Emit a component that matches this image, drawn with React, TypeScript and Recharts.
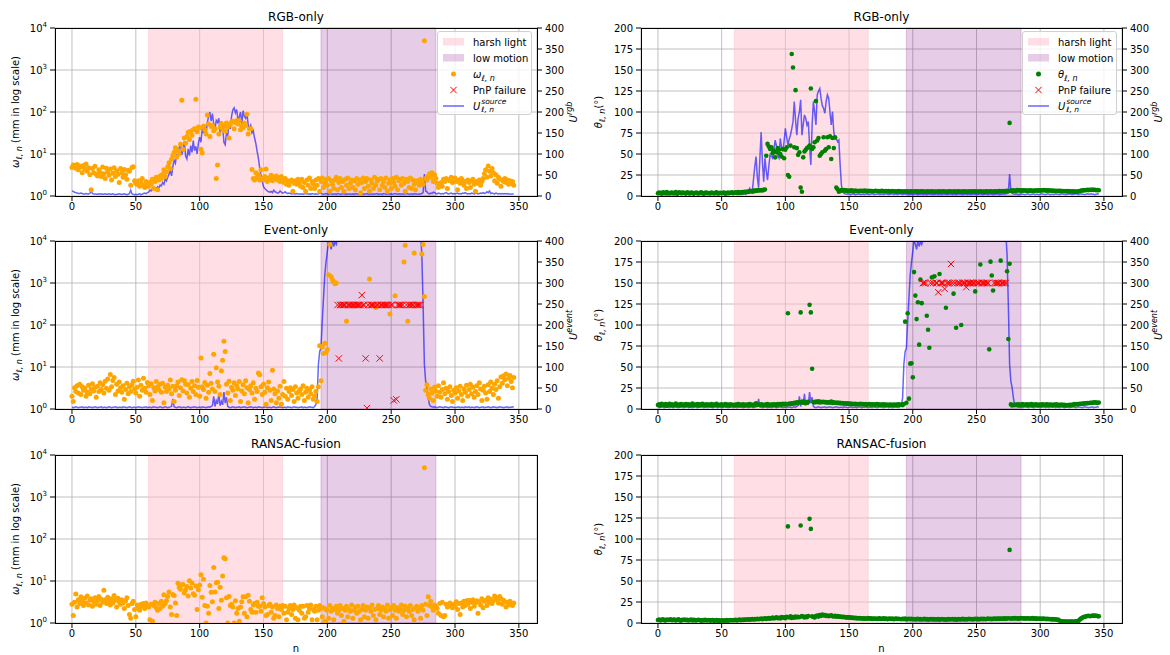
import React from 'react';
import { ComposedChart, Scatter, Line, XAxis, YAxis, CartesianGrid, ReferenceArea } from 'recharts';

const FONT = '"DejaVu Sans", sans-serif';

// frame index n on the x axis, 0..346
const X_TICKS = [0, 50, 100, 150, 200, 250, 300, 350];
const X_DOMAIN: [number, number] = [-13.3, 364.2];
const HARSH_LIGHT = [60, 165];
const LOW_MOTION = [195, 285];
const OMEGA_TICKS = [1, 10, 100, 1000, 10000];
const THETA_TICKS = [0, 25, 50, 75, 100, 125, 150, 175, 200];
const U_TICKS = [0, 50, 100, 150, 200, 250, 300, 350, 400];

// RGB-only: position error (mm)
const rgbOmega = [
  4.8, 5.5, 5.0, 4.6, 5.6, 4.2, 5.2, 4.9, 3.6, 5.3,
  4.4, 5.8, 3.9, 4.7, 3.2, 1.4, 4.5, 3.6, 5.1, 3.3,
  3.0, 4.2, 3.7, 2.9, 4.9, 3.4, 2.6, 4.6, 3.8, 3.1,
  4.4, 2.4, 3.5, 4.7, 2.9, 4.0, 3.3, 2.1, 4.5, 3.6,
  2.8, 4.3, 3.2, 2.5, 4.1, 3.9, 1.8, 4.8, 5.0, 2.3,
  2.0, 1.9, 2.3, 1.7, 2.1, 2.6, 1.8, 1.6, 2.2, 2.0,
  1.7, 2.1, 1.9, 2.5, 1.5, 2.2, 2.8, 1.4, 2.4, 3.0,
  2.6, 3.3, 4.2, 2.9, 3.8, 5.0, 6.2, 4.5, 7.5, 9.2,
  11, 14, 8.5, 12, 10, 17, 190, 13, 24, 18,
  26, 33, 22, 35, 28, 38, 40, 200, 34, 44,
  42, 13, 10.5, 46, 38, 30, 85, 52, 26, 45,
  48, 36, 40, 2.6, 5.5, 30, 44, 52, 38, 47,
  35, 55, 44, 24, 50, 58, 60, 40, 56, 63,
  52, 62, 38, 46, 42, 55, 48, 88, 30, 40,
  40, 4.3, 2.6, 2.4, 3.6, 2.8, 3.2, 2.4, 4.2, 2.6,
  2.4, 2.9, 4.4, 2.2, 2.7, 2.5, 3.1, 2.3, 2.8, 2.6,
  3.0, 2.4, 2.7, 2.2, 2.9, 2.5, 2.1, 2.6, 1.9, 2.3,
  1.8, 2.2, 2.4, 1.3, 2.0, 2.3, 1.9, 2.5, 2.1, 1.7,
  2.5, 1.6, 2.1, 1.3, 2.4, 1.8, 2.7, 1.5, 2.2, 1.9,
  1.5, 2.4, 1.8, 2.6, 1.3, 2.2, 2.7, 1.6, 2.0, 2.5,
  1.8, 2.6, 1.3, 2.3, 1.9, 1.5, 2.4, 2.8, 1.4, 2.1,
  2.6, 1.6, 2.2, 1.3, 2.5, 1.8, 2.7, 1.5, 2.0, 2.4,
  1.6, 2.3, 1.4, 2.6, 1.9, 2.4, 1.2, 2.1, 2.7, 1.5,
  2.2, 2.6, 1.7, 1.3, 2.4, 2.0, 1.5, 2.8, 1.8, 2.3,
  2.5, 1.4, 2.6, 1.8, 2.2, 1.6, 2.7, 1.3, 2.0, 2.4,
  1.5, 2.6, 2.1, 1.7, 2.8, 1.4, 2.3, 2.5, 1.8, 2.6,
  2.0, 1.3, 2.5, 2.2, 1.6, 2.7, 1.5, 2.4, 1.9, 1.4,
  2.3, 2.1, 1.8, 2.5, 2.2, 1.9, 5000, 2.6, 2.4, 3.0,
  3.4, 2.8, 3.6, 2.2, 3.2, 2.6, 2.0, 1.6, 1.8, 2.1,
  1.7, 2.5, 2.2, 2.6, 1.5, 2.4, 2.3, 2.8, 2.1, 2.5,
  2.7, 2.2, 1.4, 2.4, 2.0, 2.6, 2.3, 1.8, 2.2, 1.5,
  2.4, 2.1, 1.6, 2.3, 2.5, 1.9, 1.3, 2.2, 2.0, 2.4,
  1.8, 2.2, 2.6, 3.4, 4.2, 2.8, 5.2, 3.9, 3.0, 4.5,
  3.6, 2.3, 3.2, 2.0, 2.8, 2.5, 1.7, 2.4, 2.2, 2.6,
  2.1, 2.4, 1.9, 2.3, 2.0, 2.2, 1.8,
];

const rgbOmegaU = [
  12, 11, 9, 8, 7, 6, 6, 7, 6, 5,
  5, 6, 5, 5, 6, 12, 6, 5, 5, 4,
  4, 5, 4, 5, 4, 4, 5, 4, 4, 5,
  4, 4, 5, 4, 3, 4, 4, 5, 4, 4,
  4, 5, 4, 3, 4, 6, 14, 5, 4, 3,
  4, 3, 4, 5, 3, 4, 6, 7, 5, 8,
  9, 14, 12, 18, 15, 20, 17, 22, 19, 26,
  24, 32, 28, 40, 36, 45, 52, 60, 48, 70,
  85, 78, 100, 92, 115, 125, 98, 110, 130, 95,
  88, 112, 96, 120, 104, 132, 108, 118, 100, 126,
  140, 128, 160, 150, 170, 145, 175, 190, 200, 178,
  196, 172, 160, 180, 175, 185, 150, 178, 165, 128,
  122, 150, 145, 170, 160, 190, 205, 210, 198, 206,
  180, 188, 200, 172, 203, 190, 185, 196, 170, 160,
  168, 150, 155, 138, 125, 106, 90, 67, 50, 35,
  22, 18, 15, 12, 10, 9, 11, 8, 14, 10,
  9, 7, 8, 12, 9, 7, 8, 10, 7, 6,
  7, 6, 5, 6, 5, 5, 6, 5, 5, 4,
  5, 4, 5, 6, 5, 4, 5, 4, 6, 5,
  4, 5, 4, 5, 6, 7, 5, 4, 5, 6,
  5, 4, 6, 5, 4, 5, 5, 4, 6, 5,
  4, 5, 5, 6, 4, 5, 4, 5, 5, 4,
  5, 4, 6, 5, 5, 4, 5, 6, 4, 5,
  5, 6, 4, 5, 4, 5, 5, 4, 5, 6,
  4, 5, 5, 4, 6, 5, 4, 5, 5, 4,
  5, 4, 5, 6, 5, 4, 5, 4, 5, 5,
  4, 5, 6, 5, 4, 5, 5, 4, 6, 5,
  5, 4, 5, 5, 6, 8, 52, 12, 10, 6,
  5, 7, 6, 9, 8, 6, 5, 7, 6, 5,
  6, 5, 7, 8, 6, 5, 6, 7, 5, 6,
  5, 6, 7, 5, 6, 5, 7, 6, 8, 6,
  5, 6, 5, 7, 6, 5, 6, 7, 5, 6,
  7, 6, 8, 6, 7, 10, 8, 12, 6, 7,
  6, 5, 7, 6, 5, 6, 5, 6, 5, 6,
  5, 6, 5, 5, 4, 5, 5,
];

// RGB-only: rotation error (deg)
const rgbTheta = [
  3.2, 4.1, 3.6, 2.8, 4.4, 3.9, 3.0, 4.6, 3.4, 2.9,
  3.8, 4.2, 3.1, 3.5, 4.8, 2.7, 3.9, 4.3, 3.3, 3.7,
  4.0, 3.2, 2.9, 4.5, 3.6, 3.1, 4.2, 3.8, 2.8, 3.5,
  4.1, 3.4, 3.0, 3.9, 4.4, 3.2, 2.7, 3.7, 4.0, 3.3,
  3.6, 2.9, 4.2, 3.5, 3.1, 3.8, 4.3, 3.0, 3.4, 3.9,
  3.2, 3.7, 4.1, 2.8, 3.5, 4.0, 3.3, 3.8, 4.4, 3.6,
  3.9, 4.3, 3.5, 4.6, 4.0, 3.7, 4.8, 4.2, 5.0, 4.5,
  5.2, 4.7, 5.6, 6.0, 5.1, 6.4, 5.8, 6.8, 6.2, 7.0,
  6.5, 7.2, 6.6, 7.5, 7.8, 48, 62, 59, 56, 58,
  51, 54, 46, 52, 57, 55, 50, 47, 56, 45,
  55, 58, 25, 23, 60, 169, 153, 58, 126, 57,
  49, 52, 10, 5, 46, 53, 55, 57, 58, 60,
  128, 56, 58, 64, 113, 66, 69, 48, 50, 52,
  70, 54, 56, 70, 58, 71, 44, 69, 57, 70,
  10, 8, 5, 6, 7.2, 6.5, 7.0, 6.2, 6.8, 5.9,
  6.4, 5.8, 6.9, 6.1, 5.5, 6.6, 6.0, 5.7, 6.3, 5.9,
  6.2, 5.6, 6.5, 5.9, 6.1, 5.4, 6.3, 5.8, 6.0, 5.5,
  5.9, 6.2, 5.6, 6.0, 5.3, 5.8, 6.1, 5.5, 5.7, 6.0,
  5.4, 5.8, 5.2, 5.6, 5.9, 5.3, 5.7, 5.1, 5.5, 5.8,
  5.2, 5.6, 5.0, 5.4, 5.7, 5.1, 5.5, 4.9, 5.3, 5.6,
  5.0, 5.4, 5.7, 5.1, 5.5, 4.9, 5.3, 5.6, 5.2, 5.0,
  5.4, 5.1, 5.5, 4.8, 5.2, 5.6, 5.0, 5.3, 4.9, 5.4,
  5.1, 5.5, 5.0, 5.3, 5.7, 5.1, 5.4, 4.9, 5.2, 5.6,
  5.0, 5.4, 5.1, 5.5, 4.8, 5.2, 5.6, 5.0, 5.3, 5.1,
  5.5, 5.2, 4.9, 5.4, 5.1, 5.6, 5.0, 5.3, 5.5, 5.2,
  5.4, 5.0, 5.3, 5.6, 5.1, 5.4, 4.9, 5.2, 5.5, 5.1,
  5.3, 5.6, 5.0, 5.4, 5.2, 5.7, 5.1, 5.5, 5.8, 5.3,
  5.6, 5.9, 5.4, 5.8, 6.2, 5.7, 87, 6.4, 6.9, 6.1,
  6.6, 6.3, 7.0, 6.5, 6.8, 6.2, 6.7, 6.4, 6.9, 6.3,
  6.5, 6.1, 6.8, 6.4, 6.0, 6.6, 6.2, 6.9, 6.3, 6.7,
  6.4, 6.9, 6.5, 7.1, 6.7, 6.3, 6.8, 6.4, 6.6, 6.2,
  6.5, 6.0, 6.3, 5.9, 6.2, 5.8, 6.1, 5.7, 6.0, 5.6,
  5.9, 5.5, 5.8, 5.4, 5.6, 5.2, 5.5, 5.0, 5.4, 5.1,
  5.5, 5.9, 6.3, 6.8, 6.5, 7.1, 6.8, 7.4, 7.0, 7.5,
  7.2, 7.6, 7.1, 7.3, 6.9, 7.2, 6.8,
];

const rgbThetaU = [
  4, 3, 4, 5, 3, 4, 4, 3, 5, 4,
  3, 4, 4, 3, 4, 5, 3, 4, 4, 3,
  4, 4, 3, 5, 4, 3, 4, 4, 3, 4,
  5, 3, 4, 4, 3, 4, 5, 4, 3, 4,
  4, 3, 5, 4, 4, 3, 4, 5, 3, 4,
  4, 5, 3, 4, 4, 3, 5, 4, 4, 3,
  4, 4, 5, 3, 4, 5, 4, 6, 5, 4,
  8, 12, 18, 9, 10, 40, 70, 94, 45, 20,
  90, 152, 80, 34, 90, 60, 38, 70, 98, 95,
  90, 110, 133, 120, 95, 90, 137, 115, 106, 130,
  161, 140, 121, 135, 145, 160, 177, 225, 180, 145,
  185, 200, 229, 145, 170, 193, 185, 169, 177, 120,
  74, 169, 225, 200, 169, 241, 250, 256, 233, 215,
  209, 197, 225, 241, 233, 200, 169, 201, 153, 135,
  137, 129, 133, 74, 26, 10, 6, 5, 4, 5,
  4, 3, 4, 5, 4, 3, 4, 4, 5, 3,
  4, 4, 3, 5, 4, 4, 3, 4, 5, 4,
  3, 4, 4, 5, 3, 4, 4, 3, 4, 5,
  4, 3, 4, 4, 5, 3, 4, 4, 3, 4,
  5, 4, 3, 4, 4, 5, 4, 3, 4, 4,
  3, 4, 5, 4, 3, 4, 4, 5, 3, 4,
  4, 3, 4, 5, 4, 4, 3, 4, 4, 5,
  3, 4, 4, 3, 5, 4, 4, 3, 4, 4,
  5, 3, 4, 4, 3, 4, 5, 4, 4, 3,
  4, 4, 5, 3, 4, 4, 3, 5, 4, 4,
  3, 4, 4, 5, 4, 3, 4, 4, 5, 3,
  4, 5, 4, 3, 4, 4, 5, 4, 3, 4,
  4, 5, 4, 5, 6, 8, 52, 10, 6, 5,
  4, 5, 4, 3, 4, 5, 4, 4, 3, 4,
  5, 4, 3, 4, 4, 5, 3, 4, 4, 3,
  4, 5, 4, 4, 3, 4, 5, 4, 3, 4,
  4, 3, 5, 4, 4, 3, 4, 5, 4, 4,
  3, 4, 4, 5, 4, 3, 4, 4, 5, 4,
  3, 4, 5, 4, 4, 3, 4, 5, 4, 4,
  5, 4, 4, 3, 4, 5, 4,
];

// Event-only: position error (mm), null where PnP failed
const evOmega = [
  2.0, 1.5, 3.2, 2.6, 3.6, 2.4, 3.9, 2.2, 3.4, 2.8,
  3.1, 2.0, 2.5, 3.7, 2.3, 3.0, 4.0, 2.7, 3.3, 1.9,
  3.5, 2.6, 4.2, 2.9, 3.8, 2.4, 4.6, 3.1, 5.2, 2.8,
  6.6, 3.4, 4.8, 5.6, 2.2, 3.9, 2.7, 4.4, 3.2, 2.5,
  3.6, 1.7, 2.9, 4.1, 2.3, 3.4, 2.6, 3.8, 4.6, 3.0,
  2.4, 3.3, 4.9, 2.0, 3.7, 2.8, 5.4, 3.1, 2.5, 4.3,
  3.6, 2.2, 4.0, 1.6, 3.2, 2.7, 4.5, 3.4, 2.9, 3.9,
  2.5, 4.1, 1.4, 3.3, 2.6, 3.7, 3.0, 4.9, 2.3, 3.5,
  1.5, 2.8, 3.6, 4.4, 2.1, 3.2, 5.0, 2.7, 4.7, 3.9,
  2.4, 3.8, 1.9, 3.1, 4.5, 2.6, 3.6, 2.2, 4.8, 3.3,
  2.0, 16.4, 3.4, 2.9, 4.3, 1.8, 3.7, 2.5, 7.0, 4.1,
  3.0, 20, 2.6, 9.6, 4.4, 3.5, 2.2, 8.1, 14.4, 41,
  23.5, 3.9, 2.4, 4.6, 1.6, 3.3, 2.8, 4.2, 2.1, 3.6,
  3.0, 4.5, 1.5, 2.7, 3.8, 2.3, 4.7, 3.2, 1.4, 2.9,
  3.6, 2.4, 4.2, 1.7, 3.1, 2.6, 7.2, 6.5, 3.4, 2.2,
  3.9, 2.5, 1.3, 3.2, 4.4, 2.8, 1.6, 8.4, 3.0, 2.3,
  1.4, 2.7, 1.8, 3.5, 1.3, 2.2, 4.5, 2.0, 3.1, 1.7,
  2.6, 3.2, 2.1, 2.9, 1.5, 3.4, 2.4, 1.8, 2.7, 3.0,
  2.2, 3.6, 1.6, 2.5, 3.1, 1.9, 2.8, 2.3, 3.4, 1.7,
  2.0, 2.6, 1.5, 3.4, 32, 4.7, 30, 21, 37, 22,
  26, 1580, 8200, 1400, 1200, 1050, 960, 1000, null, null,
  null, null, null, null, null, 122, null, null, null, null,
  null, null, null, null, null, null, null, null, null, null,
  null, null, null, 1250, null, null, null, null, 260, null,
  null, null, null, null, null, null, null, null, null, 182,
  null, null, null, 500, null, null, null, null, null, null,
  3160, 7900, null, 122, null, null, null, null, 5200, null,
  null, null, null, null, 4900, 8300, 480, 2.8, 3.8, 2.2,
  1.8, 3.0, 2.4, 1.6, 3.3, 2.7, 2.0, 3.6, 2.5, 1.9,
  2.9, 4.2, 2.3, 3.1, 1.7, 2.6, 3.4, 2.1, 1.5, 2.8,
  2.4, 3.2, 1.8, 2.7, 3.5, 2.2, 1.6, 3.0, 2.5, 3.7,
  2.0, 2.9, 3.9, 2.3, 3.3, 1.9, 2.6, 3.6, 2.2, 4.2,
  3.0, 1.6, 2.8, 3.5, 2.4, 1.7, 3.8, 2.6, 4.4, 3.1,
  2.2, 3.9, 2.9, 4.7, 1.8, 3.4, 5.8, 4.1, 6.2, 5.0,
  6.8, 3.6, 5.4, 6.3, 4.5, 3.2, 5.6,
];

const evPnpOmegaN = [
  208, 209, 210, 211, 212, 213, 214, 216, 217, 218, 219, 220, 221, 222, 223, 224,
  225, 226, 227, 228, 229, 230, 231, 232, 234, 235, 236, 237, 239, 240, 241, 242,
  243, 244, 245, 246, 247, 248, 250, 251, 252, 254, 255, 256, 257, 258, 259, 262,
  264, 265, 266, 267, 269, 270, 271, 272, 273,
];
const evPnpOmegaVal = [
  300, 16, 300, 300, 300, 300, 300, 300, 300, 300, 300, 300, 300, 300, 300, 300,
  300, 300, 515, 300, 300, 16, 1.05, 300, 300, 300, 300, 300, 300, 300, 16, 300,
  300, 300, 300, 300, 300, 300, 300, 300, 1.6, 1.7, 300, 300, 300, 300, 300, 300,
  300, 300, 300, 300, 300, 300, 300, 300, 300,
];

// U^event, shared by both event-only panels
const evU = [
  4, 3, 4, 5, 4, 3, 4, 4, 5, 3,
  4, 4, 3, 5, 4, 4, 3, 4, 5, 4,
  3, 4, 4, 5, 3, 4, 4, 3, 4, 5,
  4, 3, 4, 4, 5, 4, 3, 4, 4, 3,
  5, 4, 4, 3, 4, 5, 4, 3, 4, 4,
  3, 4, 5, 4, 4, 3, 4, 4, 5, 3,
  4, 4, 3, 4, 5, 4, 4, 3, 4, 5,
  4, 3, 4, 5, 4, 3, 4, 5, 6, 24,
  5, 4, 3, 4, 5, 4, 3, 4, 4, 3,
  4, 5, 4, 3, 4, 4, 5, 4, 3, 4,
  4, 3, 5, 4, 4, 3, 4, 5, 4, 6,
  8, 30, 6, 20, 12, 36, 8, 18, 10, 40,
  14, 28, 6, 4, 3, 4, 5, 4, 3, 4,
  4, 5, 3, 4, 4, 5, 4, 3, 4, 4,
  5, 4, 3, 4, 4, 3, 5, 4, 4, 3,
  4, 4, 5, 3, 4, 4, 3, 4, 5, 4,
  3, 4, 4, 5, 4, 3, 4, 4, 3, 5,
  4, 4, 3, 4, 5, 4, 4, 3, 4, 4,
  5, 3, 4, 4, 3, 4, 5, 4, 4, 3,
  6, 10, 26, 106, 137, 145, 209, 264, 320, 350,
  375, 405, 392, 380, 402, 387, 398, 392, 405, 410,
  420, 420, 420, 420, 420, 420, 420, 420, 420, 420,
  420, 420, 420, 420, 420, 420, 420, 420, 420, 420,
  420, 420, 420, 420, 420, 420, 420, 420, 420, 420,
  420, 420, 420, 420, 420, 420, 420, 420, 420, 420,
  420, 420, 420, 420, 420, 420, 420, 420, 420, 420,
  420, 420, 420, 420, 420, 420, 420, 420, 420, 420,
  420, 420, 420, 420, 367, 248, 106, 66, 50, 26,
  10, 6, 5, 4, 5, 4, 3, 4, 5, 4,
  4, 3, 5, 4, 4, 3, 4, 5, 4, 4,
  3, 4, 4, 5, 3, 4, 4, 3, 5, 4,
  4, 5, 3, 4, 4, 3, 4, 5, 4, 3,
  4, 4, 5, 3, 4, 4, 5, 4, 3, 4,
  5, 4, 4, 3, 4, 5, 4, 4, 3, 4,
  4, 5, 3, 4, 4, 5, 4,
];

// Event-only: rotation error (deg), null where PnP failed
const evTheta = [
  4.8, 5.6, 4.2, 6.3, 5.1, 4.5, 5.9, 4.0, 5.3, 6.1,
  4.7, 5.5, 4.3, 5.0, 6.4, 4.6, 5.2, 4.1, 5.8, 4.9,
  5.4, 4.4, 6.0, 4.8, 5.7, 4.2, 5.1, 6.6, 4.5, 5.3,
  4.9, 5.8, 4.3, 5.5, 4.7, 6.2, 5.0, 4.4, 5.6, 4.8,
  5.2, 4.6, 5.9, 4.1, 5.4, 4.9, 6.3, 4.5, 5.1, 4.7,
  5.5, 4.3, 5.0, 5.8, 4.6, 5.3, 4.2, 5.7, 4.8, 5.1,
  4.5, 5.4, 4.9, 5.9, 4.4, 5.2, 4.7, 5.6, 4.3, 5.0,
  5.3, 4.6, 5.8, 4.9, 5.1, 4.4, 5.5, 6.7, 4.8, 5.2,
  4.7, 5.6, 5.0, 4.5, 5.3, 4.9, 5.8, 4.6, 5.1, 5.4,
  4.9, 5.7, 5.2, 4.6, 6.0, 5.3, 5.8, 5.0, 6.3, 5.5,
  6.1, 5.4, 114, 6.6, 5.8, 6.9, 6.2, 7.4, 6.5, 7.9,
  7.0, 8.3, 115, 7.6, 8.8, 7.2, 8.1, 7.5, 8.6, 124,
  115, 48, 8.4, 7.8, 8.9, 8.2, 9.1, 7.7, 8.5, 8.0,
  8.7, 7.9, 8.3, 7.4, 8.1, 7.6, 8.8, 7.2, 7.9, 7.5,
  7.1, 7.8, 6.9, 7.4, 6.6, 7.2, 6.4, 6.8, 6.2, 6.7,
  6.0, 6.5, 5.8, 6.3, 5.6, 6.1, 5.4, 5.9, 5.7, 6.2,
  5.5, 6.0, 5.3, 5.8, 5.1, 5.6, 5.9, 5.2, 5.7, 5.4,
  5.0, 5.5, 5.8, 5.2, 4.9, 5.4, 5.1, 5.6, 4.8, 5.3,
  5.0, 4.7, 5.4, 5.1, 4.8, 5.3, 4.6, 5.2, 4.9, 5.5,
  4.8, 5.2, 4.5, 6.0, 104, 7.5, 114, 12.3, 54, 54.4,
  37.7, 163, 135, 107, 127, 76.6, 154, 126, null, null,
  null, 111, 94.4, 72.9, null, 156.7, null, 157.9, null, null,
  null, 160.7, null, null, null, null, 120.6, null, null, null,
  null, null, 137.3, null, 96.8, null, null, null, 100, null,
  null, null, null, null, null, null, null, null, null, 140,
  null, null, null, 172, null, null, null, null, null, null,
  71, 175.4, 159, 141, null, null, null, null, null, 176.6,
  null, null, null, null, 164, 83.3, 173, 5.5, 4.2, 5.0,
  4.6, 5.3, 4.9, 5.6, 4.4, 5.1, 5.8, 4.7, 5.4, 5.0,
  5.5, 4.8, 5.2, 5.9, 4.6, 5.3, 5.0, 5.7, 4.5, 5.1,
  5.4, 4.9, 5.6, 5.1, 4.7, 5.5, 5.2, 4.8, 5.3, 5.0,
  4.6, 5.2, 4.9, 5.5, 4.4, 5.0, 4.7, 5.3, 4.5, 4.9,
  4.3, 4.8, 4.5, 5.1, 4.6, 5.0, 5.4, 5.8, 5.3, 6.0,
  5.7, 6.3, 6.0, 6.6, 6.2, 6.9, 6.5, 7.2, 6.8, 7.5,
  7.1, 7.8, 7.4, 8.0, 7.6, 7.2, 7.7,
];

const evPnpThetaN = [
  208, 209, 210, 214, 216, 218, 219, 220, 222, 223, 224, 225, 227, 228, 229, 230,
  231, 233, 235, 236, 237, 239, 240, 241, 242, 243, 244, 245, 246, 247, 248, 250,
  251, 252, 254, 255, 256, 257, 258, 259, 264, 265, 266, 267, 268, 270, 271, 272, 273,
];
const evPnpThetaVal = [
  150, 150, 150, 150, 150, 150, 150, 139, 150, 150, 150, 143, 150, 150, 150, 172.6,
  150, 150, 150, 150, 150, 150, 150, 150, 145, 150, 150, 150, 150, 150, 150, 150,
  150, 150, 150, 150, 150, 150, 150, 150, 150, 150, 150, 150, 150, 150, 150, 150, 150,
];

// RANSAC-fusion: position error (mm)
const fusionOmega = [
  2.8, 1.5, 3.1, 4.9, 2.4, 3.6, 2.9, 4.2, 3.3, 2.6,
  3.9, 3.0, 4.4, 2.7, 3.5, 3.8, 2.5, 3.2, 4.0, 2.8,
  3.4, 4.3, 2.6, 3.7, 3.1, 6.0, 3.6, 2.9, 4.1, 3.3,
  2.7, 3.8, 3.0, 4.5, 3.5, 2.4, 3.9, 3.2, 2.8, 3.6,
  3.0, 2.2, 3.4, 4.0, 2.6, 1.6, 1.3, 2.9, 3.3, 2.1,
  1.4, 2.7, 2.3, 2.0, 2.8, 2.5, 2.9, 2.2, 3.0, 2.6,
  2.4, 1.2, 2.8, 1.1, 2.6, 3.1, 2.3, 2.0, 2.9, 2.2,
  3.3, 2.5, 4.7, 2.9, 3.4, 4.3, 5.5, 2.4, 1.6, 4.8,
  4.5, 3.0, 1.5, 8.8, 7.0, 6.4, 8.1, 8.3, 5.2, 6.1,
  7.4, 4.4, 10.2, 6.8, 9.0, 5.0, 4.6, 7.6, 2.1, 6.2,
  8.0, 14, 4.1, 11, 2.6, 1.0, 2.5, 1.7, 7.8, 5.4,
  3.2, 21, 5.5, 9.1, 9.3, 2.2, 7.1, 3.5, 13.2, 36,
  34, 4.0, 1.0, 4.3, 2.6, 2.8, 2.4, 1.0, 3.4, 1.7,
  2.2, 1.1, 2.4, 3.2, 4.2, 1.7, 4.2, 1.4, 4.6, 3.3,
  2.1, 1.8, 2.7, 2.9, 1.8, 3.1, 2.5, 2.5, 1.9, 4.0,
  2.9, 2.4, 1.5, 1.6, 2.6, 2.8, 1.8, 2.4, 1.3, 1.5,
  2.7, 2.2, 1.4, 2.5, 2.1, 2.6, 1.7, 2.5, 1.2, 1.8,
  2.2, 2.6, 1.6, 2.1, 2.7, 1.3, 2.3, 1.2, 2.0, 2.5,
  1.7, 2.5, 1.3, 1.4, 2.6, 1.8, 2.2, 2.7, 1.2, 2.1,
  1.9, 2.5, 1.2, 2.0, 2.6, 2.2, 1.4, 2.3, 1.1, 2.1,
  2.0, 1.3, 2.6, 1.9, 2.2, 1.2, 2.1, 2.5, 1.7, 2.0,
  2.6, 1.5, 2.2, 1.1, 2.0, 2.5, 1.4, 2.1, 1.9, 2.7,
  1.3, 2.0, 2.4, 1.7, 2.5, 1.9, 1.2, 2.1, 2.6, 1.4,
  2.0, 2.4, 1.3, 2.3, 1.9, 2.7, 1.5, 2.1, 1.2, 2.2,
  2.6, 1.6, 2.0, 2.4, 1.4, 2.2, 1.9, 2.7, 1.3, 2.1,
  2.3, 1.5, 2.6, 2.0, 1.3, 2.3, 1.9, 2.1, 2.7, 1.6,
  2.0, 2.5, 1.4, 2.2, 1.9, 2.6, 1.5, 2.1, 1.2, 2.3,
  2.5, 1.9, 2.2, 1.3, 2.6, 2.0, 5000, 2.8, 1.5, 4.2,
  2.6, 3.3, 2.4, 2.0, 2.7, 2.5, 2.2, 1.7, 2.9, 1.5,
  3.1, 1.4, 1.5, 2.8, 2.4, 2.6, 3.0, 2.7, 2.3, 2.8,
  2.5, 3.2, 2.1, 2.9, 1.6, 3.0, 2.4, 3.3, 2.6, 3.4,
  2.8, 3.5, 2.2, 3.1, 3.6, 2.5, 3.0, 3.4, 1.7, 3.2,
  2.7, 3.8, 2.3, 3.3, 3.5, 2.6, 4.0, 3.1, 3.7, 2.9,
  3.4, 4.4, 4.1, 3.6, 3.0, 4.3, 3.8, 2.8, 3.5, 3.2,
  2.4, 3.1, 2.7, 3.3, 2.9, 2.6, 3.0,
];

// RANSAC-fusion: rotation error (deg)
const fusionTheta = [
  3.6, 4.2, 3.1, 3.8, 4.5, 3.3, 2.9, 4.0, 3.5, 3.9,
  4.3, 3.2, 3.7, 4.1, 3.0, 3.6, 4.4, 3.4, 2.8, 3.9,
  3.5, 4.0, 3.3, 3.8, 2.9, 3.6, 4.2, 3.1, 3.7, 3.4,
  3.0, 3.6, 3.9, 3.2, 2.7, 3.5, 3.1, 3.8, 2.9, 3.3,
  3.6, 2.8, 3.2, 3.5, 2.6, 3.0, 3.4, 2.7, 3.1, 2.5,
  2.9, 3.3, 2.6, 3.0, 3.4, 2.8, 3.2, 3.6, 3.0, 3.5,
  3.3, 3.8, 3.1, 3.6, 4.0, 3.4, 3.9, 3.7, 4.2, 3.8,
  4.1, 4.5, 3.9, 4.3, 4.7, 4.2, 4.6, 4.4, 4.9, 4.5,
  4.8, 5.2, 4.6, 5.0, 5.5, 4.9, 5.3, 5.8, 5.1, 5.6,
  6.4, 5.4, 5.9, 6.8, 5.7, 6.2, 5.5, 7.1, 6.3, 6.9,
  5.8, 7.4, 115, 6.5, 8.1, 5.9, 7.2, 6.4, 7.8, 6.7,
  7.5, 6.9, 116, 8.3, 7.4, 6.6, 7.7, 7.0, 8.4, 124,
  112, 7.9, 7.1, 6.5, 8.2, 8.8, 7.6, 9.4, 8.5, 10.1,
  8.9, 9.6, 8.3, 9.0, 8.0, 8.6, 9.3, 8.1, 7.8, 8.7,
  7.5, 8.2, 7.9, 7.1, 7.6, 6.9, 7.3, 6.8, 6.4, 7.0,
  6.2, 6.7, 5.9, 6.4, 5.6, 6.1, 5.8, 5.3, 6.0, 5.5,
  5.7, 5.2, 5.6, 5.0, 5.4, 5.8, 5.1, 5.5, 4.9, 5.3,
  5.0, 5.4, 4.8, 5.2, 5.6, 4.7, 5.1, 5.5, 4.9, 5.3,
  4.6, 5.0, 5.4, 4.8, 5.2, 4.5, 4.9, 5.3, 4.7, 5.1,
  4.8, 4.4, 5.0, 4.6, 5.2, 4.3, 4.7, 5.1, 4.5, 4.9,
  4.4, 4.8, 4.2, 4.6, 5.0, 4.3, 4.7, 4.1, 4.5, 4.9,
  4.3, 4.7, 4.0, 4.4, 4.8, 4.2, 4.6, 4.1, 4.5, 4.3,
  4.6, 4.0, 4.4, 4.8, 4.2, 4.5, 3.9, 4.3, 4.7, 4.1,
  4.4, 4.8, 4.2, 4.6, 4.0, 4.3, 4.7, 4.1, 4.5, 4.9,
  4.3, 4.7, 4.1, 4.5, 4.9, 4.4, 4.8, 4.2, 4.6, 5.0,
  4.5, 4.9, 4.3, 4.7, 5.1, 4.6, 5.0, 4.4, 4.8, 5.2,
  4.7, 5.1, 4.6, 5.0, 5.4, 4.8, 5.2, 4.9, 5.3, 5.0,
  5.4, 5.1, 5.5, 5.0, 5.3, 5.6, 87, 5.2, 5.7, 5.4,
  5.8, 5.3, 5.6, 5.1, 5.5, 5.9, 5.4, 5.7, 5.2, 5.6,
  5.3, 5.7, 5.0, 5.4, 5.8, 5.1, 5.5, 4.9, 5.3, 5.0,
  5.2, 4.8, 5.4, 4.9, 5.1, 4.6, 5.0, 4.4, 4.8, 4.3,
  4.6, 4.1, 4.4, 3.8, 4.0, 3.0, 2.4, 2.0, 1.8, 1.7,
  1.6, 1.8, 1.5, 1.7, 1.6, 1.8, 1.5, 1.7, 1.9, 2.0,
  2.6, 4.0, 5.2, 6.3, 7.0, 7.5, 7.9, 8.3, 8.6, 8.1,
  8.4, 8.8, 8.5, 8.9, 8.6, 8.2, 7.9,
];

const ROW_TOPS = [28, 241, 455];
const PLOT_H = 168;
const CHART_W = 585;
const RIGHT_AXIS_W = 48;

const tickStyle = { fontSize: 10, fill: '#000', fontFamily: FONT };

const PowTick = (props: any) => {
  const { x, y, payload } = props;
  const exp = Math.round(Math.log10(payload.value));
  return (
    <text x={x} y={y} dy={4} textAnchor="end" fontSize={10} fontFamily={FONT} fill="#000">
      10<tspan dy={-5} fontSize={7}>{exp}</tspan>
    </text>
  );
};

const dotShape = (fill: string, r: number) => (p: any) =>
  p.cx == null || p.cy == null ? <g /> : <circle cx={p.cx} cy={p.cy} r={r} fill={fill} />;

const crossShape = (p: any) => {
  const { cx, cy } = p;
  if (cx == null || cy == null) return <g />;
  const s = 3.2;
  return (
    <path
      d={`M${cx - s},${cy - s}L${cx + s},${cy + s}M${cx - s},${cy + s}L${cx + s},${cy - s}`}
      stroke="#ff0000"
      strokeWidth={1}
    />
  );
};

const Sub = ({ children }: { children: React.ReactNode }) => (
  <span style={{ fontSize: 8, fontStyle: 'italic', position: 'relative', top: 3 }}>{children}</span>
);

function ErrLabel({ kind }: { kind: 'omega' | 'theta' }) {
  return kind === 'omega' ? (
    <span>
      <i>ω</i>
      <Sub>ℓ, n</Sub> (mm in log scale)
    </span>
  ) : (
    <span>
      <i>θ</i>
      <Sub>ℓ, n</Sub>(°)
    </span>
  );
}

function ULabel({ source }: { source: string }) {
  return (
    <span>
      <i>U</i>
      <span style={{ fontSize: 8, fontStyle: 'italic', position: 'relative', top: -5 }}>{source}</span>
    </span>
  );
}

function LegendBox({ left, top, kind }: { left: number; top: number; kind: 'omega' | 'theta' }) {
  const dotColor = kind === 'omega' ? '#ffa500' : '#008000';
  const row = { display: 'flex', alignItems: 'center', height: 16 } as const;
  const icon = { width: 21, height: 16, marginRight: 9, flex: 'none' } as const;
  return (
    <div
      style={{
        position: 'absolute', left, top, width: 95, height: 84, boxSizing: 'border-box',
        border: '1px solid #d0d0d0', borderRadius: 3, background: 'rgba(255,255,255,0.8)',
        padding: '2px 0 0 5px', fontFamily: FONT, fontSize: 10, color: '#000',
      }}
    >
      <div style={row}>
        <svg style={icon}><rect x={0} y={4} width={21} height={7.5} fill="#ffc0cb" fillOpacity={0.5} /></svg>
        harsh light
      </div>
      <div style={row}>
        <svg style={icon}><rect x={0} y={4} width={21} height={7.5} fill="#800080" fillOpacity={0.2} /></svg>
        low motion
      </div>
      <div style={row}>
        <svg style={icon}><circle cx={10.5} cy={8} r={2.5} fill={dotColor} /></svg>
        <span>
          <i>{kind === 'omega' ? 'ω' : 'θ'}</i>
          <Sub>ℓ, n</Sub>
        </span>
      </div>
      <div style={row}>
        <svg style={icon}>{crossShape({ cx: 10.5, cy: 8 })}</svg>
        PnP failure
      </div>
      <div style={row}>
        <svg style={icon}><line x1={0} x2={21} y1={8} y2={8} stroke="blue" strokeOpacity={0.6} strokeWidth={1.5} /></svg>
        <span style={{ display: 'inline-flex', alignItems: 'center' }}>
          <i>U</i>
          <span style={{ display: 'inline-flex', flexDirection: 'column', fontSize: 7.5, lineHeight: '8px', fontStyle: 'italic', marginLeft: 1 }}>
            <span>source</span>
            <span>ℓ, n</span>
          </span>
        </span>
      </div>
    </div>
  );
}

interface PanelProps {
  col: 0 | 1;
  row: 0 | 1 | 2;
  title: string;
  kind: 'omega' | 'theta';
  values: (number | null)[];
  u?: number[];
  uSource?: string;
  pnpN?: number[];
  pnpVal?: number[];
  legend?: boolean;
}

function Panel({ col, row, title, kind, values, u, uSource, pnpN, pnpVal, legend }: PanelProps) {
  const chartLeft = col === 0 ? 0 : CHART_W;
  const yWidth = col === 0 ? 55 : 56;
  const plotX = chartLeft + yWidth;
  const plotW = CHART_W - yWidth - RIGHT_AXIS_W;
  const top = ROW_TOPS[row];
  const color = kind === 'omega' ? '#ffa500' : '#008000';

  const points = values
    .map((v, i) => ({ n: i, v }))
    .filter((p) => p.v !== null && p.v !== undefined);
  const lineRows = u ? u.map((val, i) => ({ n: i, u: val })) : [];
  const failures = pnpN && pnpVal ? pnpN.map((n, i) => ({ n, v: pnpVal[i] })) : [];

  return (
    <>
      <div style={{ position: 'absolute', left: chartLeft, top: top - 20 }}>
        <ComposedChart
          width={CHART_W}
          height={20 + PLOT_H + 24}
          data={lineRows}
          margin={{ top: 20, right: u ? 0 : RIGHT_AXIS_W, bottom: 0, left: 0 }}
        >
          <CartesianGrid yAxisId="left" stroke="#b0b0b0" strokeWidth={0.8} />
          <XAxis
            type="number"
            dataKey="n"
            domain={X_DOMAIN}
            ticks={X_TICKS}
            interval={0}
            allowDataOverflow
            height={24}
            tickSize={5}
            tickMargin={2}
            axisLine={false}
            tickLine={{ stroke: '#000' }}
            tick={tickStyle}
          />
          {kind === 'omega' ? (
            <YAxis
              yAxisId="left"
              scale="log"
              domain={[1, 10000]}
              ticks={OMEGA_TICKS}
              allowDataOverflow
              interval={0}
              width={yWidth}
              tickSize={5}
              tickMargin={3}
              axisLine={false}
              tickLine={{ stroke: '#000' }}
              tick={<PowTick />}
            />
          ) : (
            <YAxis
              yAxisId="left"
              type="number"
              domain={[0, 200]}
              ticks={THETA_TICKS}
              allowDataOverflow
              interval={0}
              width={yWidth}
              tickSize={5}
              tickMargin={3}
              axisLine={false}
              tickLine={{ stroke: '#000' }}
              tick={tickStyle}
            />
          )}
          {u && (
            <YAxis
              yAxisId="right"
              orientation="right"
              type="number"
              domain={[0, 400]}
              ticks={U_TICKS}
              allowDataOverflow
              interval={0}
              width={RIGHT_AXIS_W}
              tickSize={5}
              tickMargin={3}
              axisLine={false}
              tickLine={{ stroke: '#000' }}
              tick={tickStyle}
            />
          )}
          <ReferenceArea
            yAxisId="left"
            x1={HARSH_LIGHT[0]}
            x2={HARSH_LIGHT[1]}
            fill="#ffc0cb"
            fillOpacity={0.5}
            stroke="#ffc0cb"
            strokeOpacity={0.5}
          />
          <ReferenceArea
            yAxisId="left"
            x1={LOW_MOTION[0]}
            x2={LOW_MOTION[1]}
            fill="#800080"
            fillOpacity={0.2}
            stroke="#800080"
            strokeOpacity={0.2}
          />
          <Scatter
            yAxisId="left"
            data={points}
            dataKey="v"
            shape={dotShape(color, kind === 'omega' ? 2.5 : 2.3)}
            isAnimationActive={false}
          />
          {failures.length > 0 && (
            <Scatter yAxisId="left" data={failures} dataKey="v" shape={crossShape} isAnimationActive={false} />
          )}
          {u && (
            <Line
              yAxisId="right"
              dataKey="u"
              stroke="blue"
              strokeOpacity={0.6}
              strokeWidth={1.5}
              dot={false}
              activeDot={false}
              isAnimationActive={false}
            />
          )}
        </ComposedChart>
      </div>

      {/* axes frame */}
      <div
        style={{
          position: 'absolute', left: plotX, top, width: plotW + 1, height: PLOT_H + 1,
          boxSizing: 'border-box', border: '1px solid #000', pointerEvents: 'none',
        }}
      />

      <div
        style={{
          position: 'absolute', left: plotX + plotW / 2, top: top - 11, transform: 'translate(-50%, -50%)',
          fontFamily: FONT, fontSize: 12, whiteSpace: 'nowrap',
        }}
      >
        {title}
      </div>

      <div
        style={{
          position: 'absolute', left: col === 0 ? 15 : 598, top: top + PLOT_H / 2,
          transform: 'translate(-50%, -50%) rotate(-90deg)', fontFamily: FONT, fontSize: 10, whiteSpace: 'nowrap',
        }}
      >
        <ErrLabel kind={kind} />
      </div>

      {u && uSource && (
        <div
          style={{
            position: 'absolute', left: col === 0 ? 573 : 1158, top: top + PLOT_H / 2,
            transform: 'translate(-50%, -50%) rotate(-90deg)', fontFamily: FONT, fontSize: 10, whiteSpace: 'nowrap',
          }}
        >
          <ULabel source={uSource} />
        </div>
      )}

      {row === 2 && (
        <div
          style={{
            position: 'absolute', left: plotX + plotW / 2, top: 648, transform: 'translate(-50%, -50%)',
            fontFamily: FONT, fontSize: 10,
          }}
        >
          n
        </div>
      )}

      {legend && <LegendBox left={plotX + plotW - 100} top={top + 3} kind={kind} />}
    </>
  );
}

export default function App() {
  return (
    <div style={{ position: 'absolute', left: 0, top: 0, width: 1170, height: 655, background: '#fff', overflow: 'hidden' }}>
      <Panel col={0} row={0} title="RGB-only" kind="omega" values={rgbOmega} u={rgbOmegaU} uSource="rgb" legend />
      <Panel col={1} row={0} title="RGB-only" kind="theta" values={rgbTheta} u={rgbThetaU} uSource="rgb" legend />
      <Panel
        col={0} row={1} title="Event-only" kind="omega" values={evOmega} u={evU} uSource="event"
        pnpN={evPnpOmegaN} pnpVal={evPnpOmegaVal}
      />
      <Panel
        col={1} row={1} title="Event-only" kind="theta" values={evTheta} u={evU} uSource="event"
        pnpN={evPnpThetaN} pnpVal={evPnpThetaVal}
      />
      <Panel col={0} row={2} title="RANSAC-fusion" kind="omega" values={fusionOmega} />
      <Panel col={1} row={2} title="RANSAC-fusion" kind="theta" values={fusionTheta} />
    </div>
  );
}
